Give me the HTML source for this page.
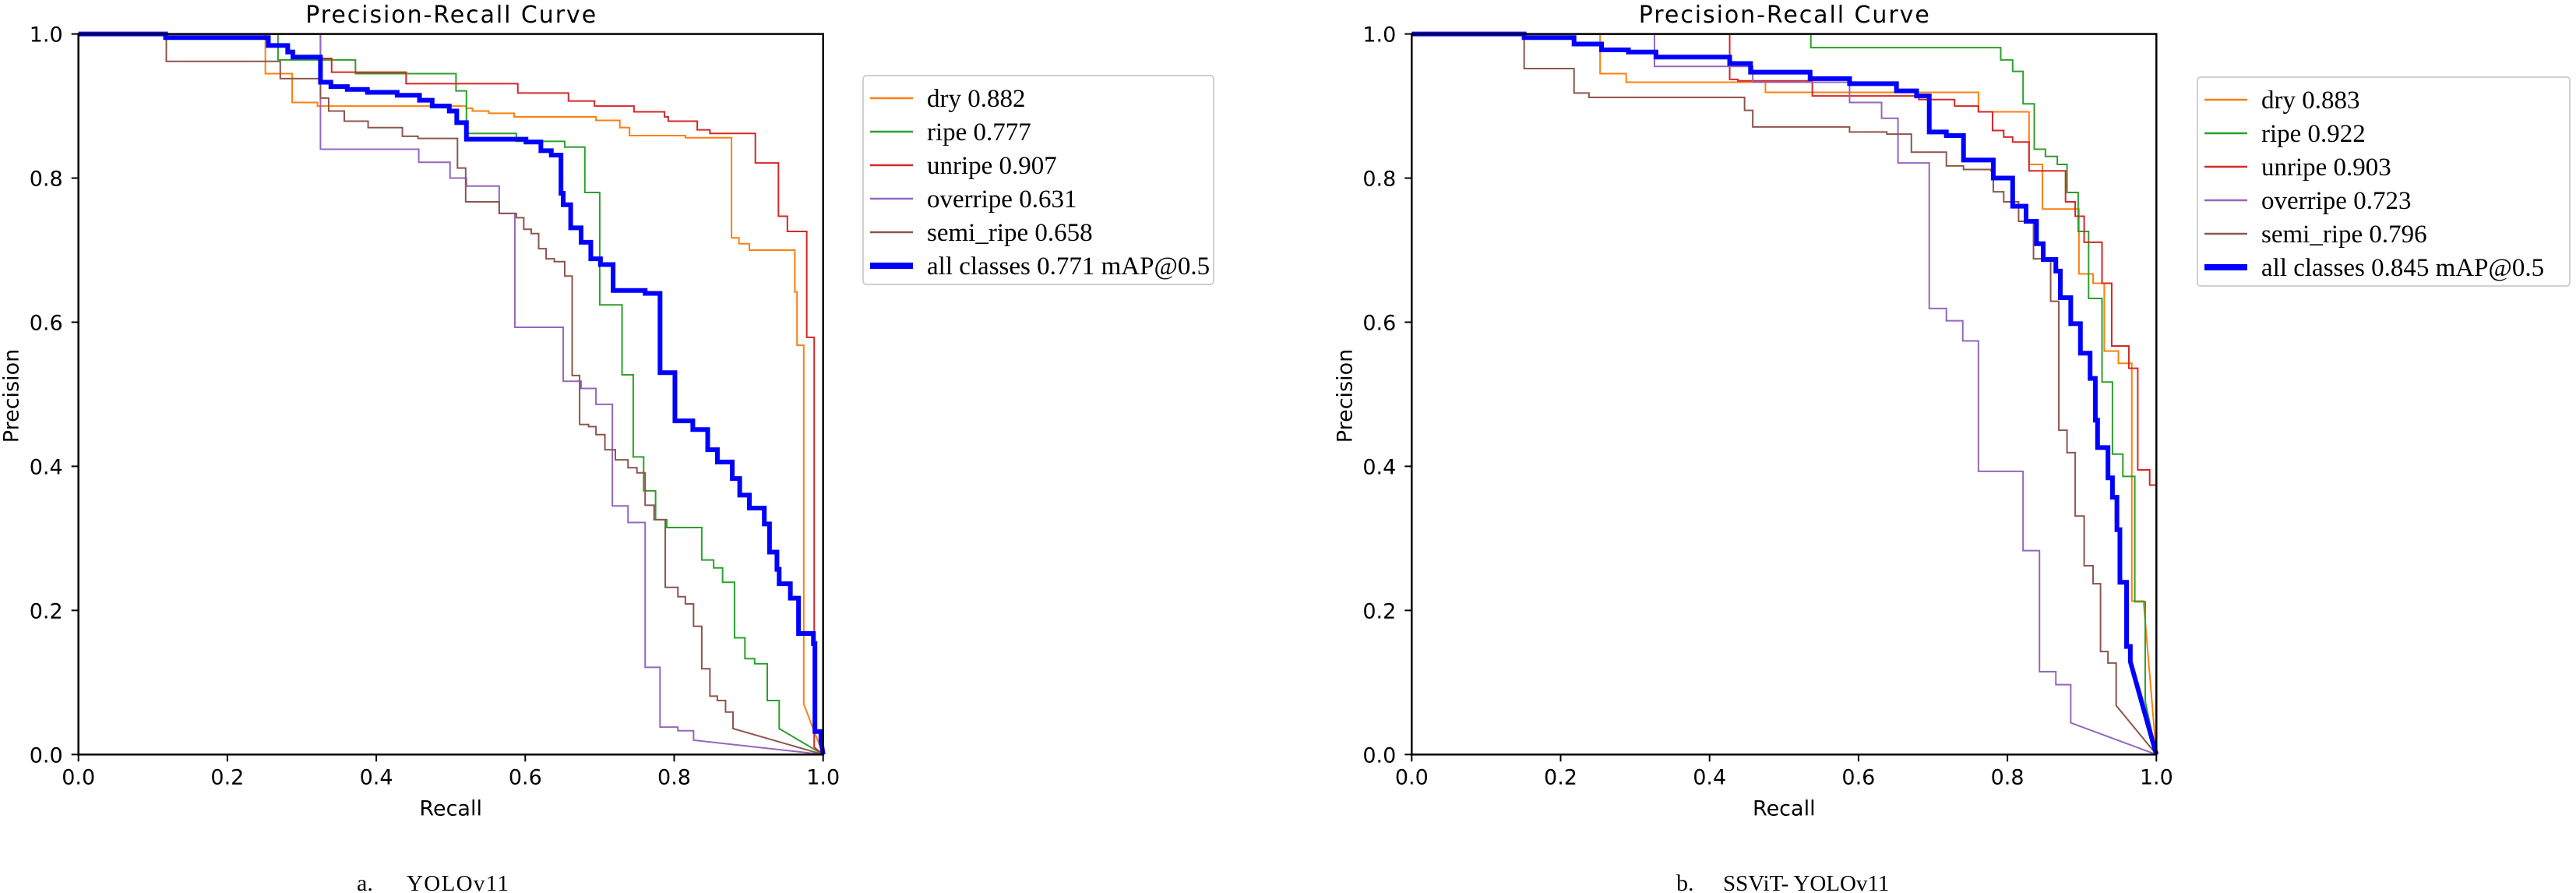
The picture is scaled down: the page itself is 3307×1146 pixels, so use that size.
<!DOCTYPE html>
<html><head><meta charset="utf-8"><style>
html,body{margin:0;padding:0;background:#fff}
svg{display:block}
</style></head><body>
<svg id="fig" width="3307" height="1146" viewBox="0 0 3307 1146" xmlns="http://www.w3.org/2000/svg">
<rect width="3307" height="1146" fill="#fff"/>
<g id="panelA"></g>
<g id="panelB"></g>
<text x="458" y="1143" font-family="Liberation Serif, serif" font-size="30">a.</text>
<text x="522" y="1143" font-family="Liberation Serif, serif" font-size="29" textLength="131">YOLOv11</text>
<text x="2152" y="1143" font-family="Liberation Serif, serif" font-size="30">b.</text>
<text x="2212" y="1143" font-family="Liberation Serif, serif" font-size="29">SSViT- YOLOv11</text>
</svg>
<script>
// ---- data: panel A (YOLOv11) ----
const classNames = ["dry", "ripe", "unripe", "overripe", "semi_ripe", "all classes"];
const classColors = ["#ff7f0e", "#2ca02c", "#d62728", "#9467bd", "#8c564b", "#0000ff"];
const apA = ["0.882", "0.777", "0.907", "0.631", "0.658", "0.771"];
const apB = ["0.883", "0.922", "0.903", "0.723", "0.796", "0.845"];
const tickValues = [0, 0.2, 0.4, 0.6, 0.8, 1.0];
const tickLabels = ["0.0", "0.2", "0.4", "0.6", "0.8", "1.0"];

const dryA = [[0,1],[0.251,0.945],[0.287,0.905],[0.321,0.90],[0.521,0.897],[0.529,0.893],[0.551,0.89],[0.585,0.885],[0.695,0.880],[0.727,0.870],[0.74,0.859],[0.815,0.856],[0.877,0.717],[0.887,0.709],[0.901,0.70],[0.962,0.642],[0.965,0.568],[0.974,0.07],[1.0,0]];
const ripeA = [[0,1],[0.268,0.964],[0.372,0.945],[0.507,0.921],[0.521,0.862],[0.588,0.851],[0.653,0.843],[0.68,0.78],[0.70,0.624],[0.73,0.527],[0.745,0.413],[0.759,0.366],[0.775,0.326],[0.79,0.315],[0.837,0.27],[0.853,0.259],[0.865,0.239],[0.881,0.162],[0.895,0.133],[0.908,0.126],[0.925,0.075],[0.941,0.036],[1.0,0]];
const unripeA = [[0,1],[0.325,0.966],[0.34,0.947],[0.44,0.931],[0.59,0.918],[0.658,0.907],[0.693,0.90],[0.746,0.892],[0.787,0.885],[0.792,0.879],[0.831,0.867],[0.848,0.862],[0.909,0.821],[0.94,0.747],[0.952,0.726],[0.978,0.579],[0.988,0.01],[1.0,0]];
const overripeA = [[0,1],[0.325,0.84],[0.457,0.822],[0.499,0.80],[0.521,0.789],[0.565,0.751],[0.586,0.593],[0.651,0.518],[0.675,0.508],[0.695,0.486],[0.717,0.345],[0.738,0.322],[0.761,0.121],[0.781,0.038],[0.805,0.033],[0.826,0.02],[1.0,0]];
const semiA = [[0,1],[0.118,0.962],[0.271,0.938],[0.325,0.911],[0.336,0.893],[0.357,0.879],[0.389,0.87],[0.435,0.858],[0.456,0.855],[0.509,0.814],[0.52,0.767],[0.565,0.751],[0.588,0.745],[0.598,0.729],[0.608,0.723],[0.618,0.702],[0.628,0.688],[0.639,0.684],[0.653,0.664],[0.663,0.526],[0.673,0.458],[0.685,0.455],[0.695,0.444],[0.707,0.423],[0.721,0.409],[0.738,0.398],[0.75,0.391],[0.761,0.346],[0.773,0.326],[0.788,0.232],[0.805,0.219],[0.815,0.209],[0.826,0.178],[0.837,0.119],[0.848,0.081],[0.858,0.075],[0.869,0.059],[0.879,0.036],[1.0,0]];
const allA = [[0,1],[0.117,0.995],[0.255,0.984],[0.281,0.975],[0.288,0.968],[0.325,0.933],[0.339,0.927],[0.361,0.923],[0.388,0.919],[0.428,0.915],[0.458,0.908],[0.475,0.90],[0.498,0.893],[0.508,0.877],[0.521,0.854],[0.601,0.85],[0.621,0.838],[0.635,0.832],[0.648,0.779],[0.651,0.763],[0.661,0.731],[0.675,0.711],[0.688,0.688],[0.701,0.680],[0.718,0.644],[0.761,0.640],[0.781,0.53],[0.801,0.463],[0.825,0.451],[0.845,0.423],[0.858,0.406],[0.878,0.383],[0.888,0.36],[0.901,0.342],[0.921,0.32],[0.928,0.281],[0.938,0.257],[0.941,0.237],[0.956,0.217],[0.967,0.168],[0.987,0.154],[0.989,0.032],[0.997,0.02],[1.0,0]];

// ---- data: panel B (SSViT-YOLOv11) ----
const dryB = [[0,1],[0.253,0.945],[0.288,0.933],[0.475,0.919],[0.761,0.892],[0.829,0.819],[0.847,0.757],[0.896,0.667],[0.915,0.654],[0.93,0.56],[0.949,0.543],[0.967,0.213],[0.983,0.21],[1.0,0]];
const ripeB = [[0,1],[0.536,0.981],[0.791,0.964],[0.807,0.948],[0.821,0.903],[0.836,0.84],[0.851,0.83],[0.867,0.819],[0.88,0.78],[0.895,0.726],[0.909,0.633],[0.927,0.517],[0.941,0.417],[0.955,0.386],[0.971,0.212],[0.985,0.074],[1.0,0]];
const unripeB = [[0,1],[0.427,0.937],[0.438,0.935],[0.538,0.914],[0.681,0.909],[0.729,0.90],[0.761,0.892],[0.78,0.866],[0.795,0.857],[0.807,0.85],[0.829,0.81],[0.878,0.767],[0.891,0.747],[0.903,0.711],[0.927,0.654],[0.94,0.567],[0.963,0.536],[0.975,0.395],[0.991,0.374],[1.0,0.184]];
const overripeB = [[0,1],[0.326,0.955],[0.458,0.933],[0.588,0.905],[0.631,0.883],[0.653,0.821],[0.695,0.619],[0.718,0.602],[0.74,0.574],[0.761,0.393],[0.821,0.283],[0.843,0.115],[0.865,0.097],[0.885,0.044],[1.0,0]];
const semiB = [[0,1],[0.151,0.952],[0.218,0.918],[0.238,0.912],[0.447,0.894],[0.458,0.871],[0.588,0.864],[0.638,0.861],[0.671,0.836],[0.718,0.817],[0.741,0.812],[0.778,0.81],[0.781,0.781],[0.795,0.767],[0.815,0.74],[0.835,0.688],[0.858,0.629],[0.869,0.45],[0.88,0.419],[0.891,0.331],[0.903,0.262],[0.915,0.237],[0.925,0.143],[0.935,0.127],[0.946,0.068],[1.0,0]];
const allB = [[0,1],[0.151,0.995],[0.218,0.986],[0.255,0.978],[0.291,0.975],[0.328,0.968],[0.427,0.959],[0.455,0.947],[0.535,0.938],[0.588,0.931],[0.651,0.921],[0.678,0.914],[0.695,0.864],[0.718,0.859],[0.741,0.825],[0.781,0.80],[0.807,0.761],[0.825,0.74],[0.839,0.709],[0.848,0.687],[0.865,0.671],[0.871,0.634],[0.885,0.598],[0.898,0.557],[0.911,0.522],[0.918,0.464],[0.921,0.426],[0.935,0.384],[0.941,0.357],[0.947,0.312],[0.951,0.239],[0.96,0.15],[0.965,0.129],[1.0,0]];

const seriesA = [dryA, ripeA, unripeA, overripeA, semiA, allA];
const seriesB = [dryB, ripeB, unripeB, overripeB, semiB, allB];

const NS = "http://www.w3.org/2000/svg";
function mk(tag, attrs, parent, txt) {
  const e = document.createElementNS(NS, tag);
  for (const k in attrs) e.setAttribute(k, attrs[k]);
  if (txt !== undefined) e.textContent = txt;
  parent.appendChild(e);
  return e;
}

function drawPanel(g, x0, series, aps, legX, legY, legW) {
  const W = 956, y0 = 968.3, H = 924.7;
  const sx = v => x0 + v * W;
  const sy = v => y0 - v * H;
  const sans = "DejaVu Sans, Liberation Sans, sans-serif";
  // title
  const t = mk("text", {x: x0 + W / 2, y: 29, "text-anchor": "middle", "font-family": sans, "font-size": 30, textLength: 373}, g, "Precision-Recall Curve");
  
  
  // series
  series.forEach((pts, i) => {
    let d = "M" + sx(pts[0][0]).toFixed(2) + "," + sy(pts[0][1]).toFixed(2);
    for (let k = 1; k < pts.length; k++) {
      const last = (k === pts.length - 1) && pts[k][1] === 0;
      if (last) {
        d += " L" + sx(pts[k][0]).toFixed(2) + "," + sy(pts[k][1]).toFixed(2);
      } else {
        d += " H" + sx(pts[k][0]).toFixed(2) + " V" + sy(pts[k][1]).toFixed(2);
      }
    }
    if (pts[pts.length - 1][1] !== 0 && pts[pts.length-1][0] === 1) {
      // ends above zero at recall 1
    }
    const p = mk("path", {d: d, fill: "none", stroke: classColors[i], "stroke-width": i === 5 ? 6 : 2, "stroke-linejoin": "miter"}, g);
    
    
  });
  // axes frame
  const fr = mk("rect", {x: x0, y: y0 - H, width: W, height: H, fill: "none", stroke: "#000", "stroke-width": 2.5}, g);
  
  
  // ticks
  tickValues.forEach((v, i) => {
    const xt = mk("line", {x1: sx(v), x2: sx(v), y1: y0, y2: y0 + 9, stroke: "#000", "stroke-width": 2}, g);
    
    
    const xl = mk("text", {x: sx(v), y: y0 + 38, "text-anchor": "middle", "font-family": sans, "font-size": 27}, g, tickLabels[i]);
    
    
    const yt = mk("line", {x1: x0 - 9, x2: x0, y1: sy(v), y2: sy(v), stroke: "#000", "stroke-width": 2}, g);
    
    
    const yl = mk("text", {x: x0 - 20, y: sy(v) + 10, "text-anchor": "end", "font-family": sans, "font-size": 27}, g, tickLabels[i]);
    
    
  });
  const xa = mk("text", {x: x0 + W / 2, y: y0 + 78, "text-anchor": "middle", "font-family": sans, "font-size": 27}, g, "Recall");
  
  
  const ya = mk("text", {x: 0, y: 0, "text-anchor": "middle", "font-family": sans, "font-size": 27, transform: "translate(" + (x0 - 77) + "," + 508 + ") rotate(-90)"}, g, "Precision");
  
  
  // legend
  const lg = mk("g", {}, g);
  
  
  mk("rect", {x: legX, y: legY, width: legW, height: 268, rx: 4, fill: "#fff", stroke: "#d0d0d0", "stroke-width": 2}, lg);
  classNames.forEach((n, i) => {
    const yy = legY + 29 + i * 43;
    const e = mk("g", {}, lg);
    
    
    mk("line", {x1: legX + 9, x2: legX + 64, y1: yy, y2: yy, stroke: classColors[i], "stroke-width": i === 5 ? 8 : 2.5}, e);
    const label = n + " " + aps[i] + (i === 5 ? " mAP@0.5" : "");
    mk("text", {x: legX + 82, y: yy + 11, "font-family": "Liberation Serif, serif", "font-size": 33}, e, label);
  });
}

drawPanel(document.getElementById("panelA"), 100.7, seriesA, apA, 1108, 97, 450);
drawPanel(document.getElementById("panelB"), 1812.3, seriesB, apB, 2821, 99, 478);
</script>
</body></html>
